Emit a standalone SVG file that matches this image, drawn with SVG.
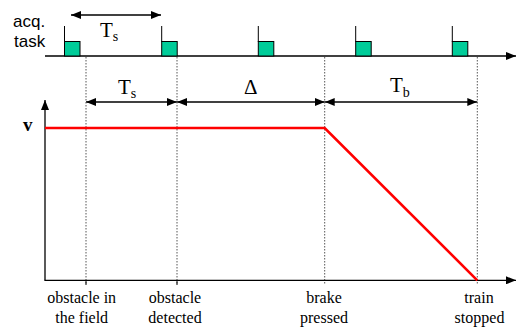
<svg xmlns="http://www.w3.org/2000/svg" width="519" height="329" viewBox="0 0 519 329">
<style>
.ax{stroke:#000;stroke-width:1.3;fill:none}
.dim{stroke:#000;stroke-width:1.3;fill:none;marker-start:url(#ah);marker-end:url(#ah)}
.dot{stroke:#555;stroke-width:1;stroke-dasharray:1.5,1.5;fill:none}
.task{fill:#00CC99;stroke:#000;stroke-width:1}
.tick{stroke:#000;stroke-width:1}
.sans{font-family:"Liberation Sans",Arial,sans-serif;font-size:17px;fill:#000}
.serif{font-family:"Liberation Serif","Times New Roman",serif;fill:#000}
.lbl{font-size:16px;text-anchor:middle}
.big{font-size:21px}
</style>
<defs>
<marker id="ah" viewBox="0 0 10 8" refX="10" refY="4" markerWidth="10" markerHeight="8" markerUnits="userSpaceOnUse" orient="auto-start-reverse">
<path d="M0,0 L10,4 L0,8 z" fill="#000"/>
</marker>
</defs>
<g id="task-label">
<text class="sans" x="13" y="27">acq.</text>
<text class="sans" x="14" y="47">task</text>
</g>
<g id="timeline">
<line class="ax" x1="45" y1="56" x2="516" y2="56" marker-end="url(#ah)"/>
</g>
<g id="tasks">
<line class="tick" x1="64.5" y1="26" x2="64.5" y2="42"/><rect class="task" x="64.5" y="41.5" width="15.5" height="14.5"/>
<line class="tick" x1="161.7" y1="26" x2="161.7" y2="42"/><rect class="task" x="161.7" y="41.5" width="15.5" height="14.5"/>
<line class="tick" x1="258.3" y1="26" x2="258.3" y2="42"/><rect class="task" x="258.3" y="41.5" width="15.5" height="14.5"/>
<line class="tick" x1="355.7" y1="26" x2="355.7" y2="42"/><rect class="task" x="355.7" y="41.5" width="15.5" height="14.5"/>
<line class="tick" x1="452.3" y1="26" x2="452.3" y2="42"/><rect class="task" x="452.3" y="41.5" width="15.5" height="14.5"/>
</g>
<g id="connectors">
<line class="dim" x1="71" y1="15" x2="161" y2="15"/>
<line class="dim" x1="86" y1="102" x2="177" y2="102"/>
<line class="dim" x1="177" y1="102" x2="324.7" y2="102"/>
<line class="dim" x1="324.7" y1="102" x2="477.3" y2="102"/>
<line class="dot" x1="86" y1="57" x2="86" y2="285"/>
<line class="dot" x1="177" y1="57" x2="177" y2="285"/>
<line class="dot" x1="324.7" y1="57" x2="324.7" y2="285"/>
<line class="dot" x1="477.3" y1="57" x2="477.3" y2="285"/>
</g>
<g id="dim-labels">
<text class="serif big" x="100" y="37">T<tspan font-size="14" dy="4">s</tspan></text>
<text class="serif big" x="118" y="94">T<tspan font-size="14" dy="4">s</tspan></text>
<text class="serif big" x="244" y="94">Δ</text>
<text class="serif big" x="390" y="92">T<tspan font-size="14" dy="5">b</tspan></text>
</g>
<g id="axes">
<line class="ax" x1="45" y1="280.3" x2="45" y2="100" marker-end="url(#ah)"/>
<line class="ax" x1="44.4" y1="280.3" x2="516" y2="280.3" marker-end="url(#ah)"/>
<line class="tick" x1="86" y1="280" x2="86" y2="285"/>
<line class="tick" x1="177" y1="280" x2="177" y2="285"/>
<text class="serif" x="23" y="131" font-size="19" font-weight="bold">v</text>
</g>
<g id="speed">
<polyline points="45,128 324.7,128 477.3,280.3" fill="none" stroke="#FF0000" stroke-width="2.6"/>
</g>
<g id="events">
<text class="serif lbl" x="81.7" y="303">obstacle in</text>
<text class="serif lbl" x="81.7" y="323">the field</text>
<text class="serif lbl" x="175" y="303">obstacle</text>
<text class="serif lbl" x="175" y="323">detected</text>
<text class="serif lbl" x="324" y="303">brake</text>
<text class="serif lbl" x="324" y="323">pressed</text>
<text class="serif lbl" x="479" y="303">train</text>
<text class="serif lbl" x="479.5" y="323">stopped</text>
</g>
</svg>
